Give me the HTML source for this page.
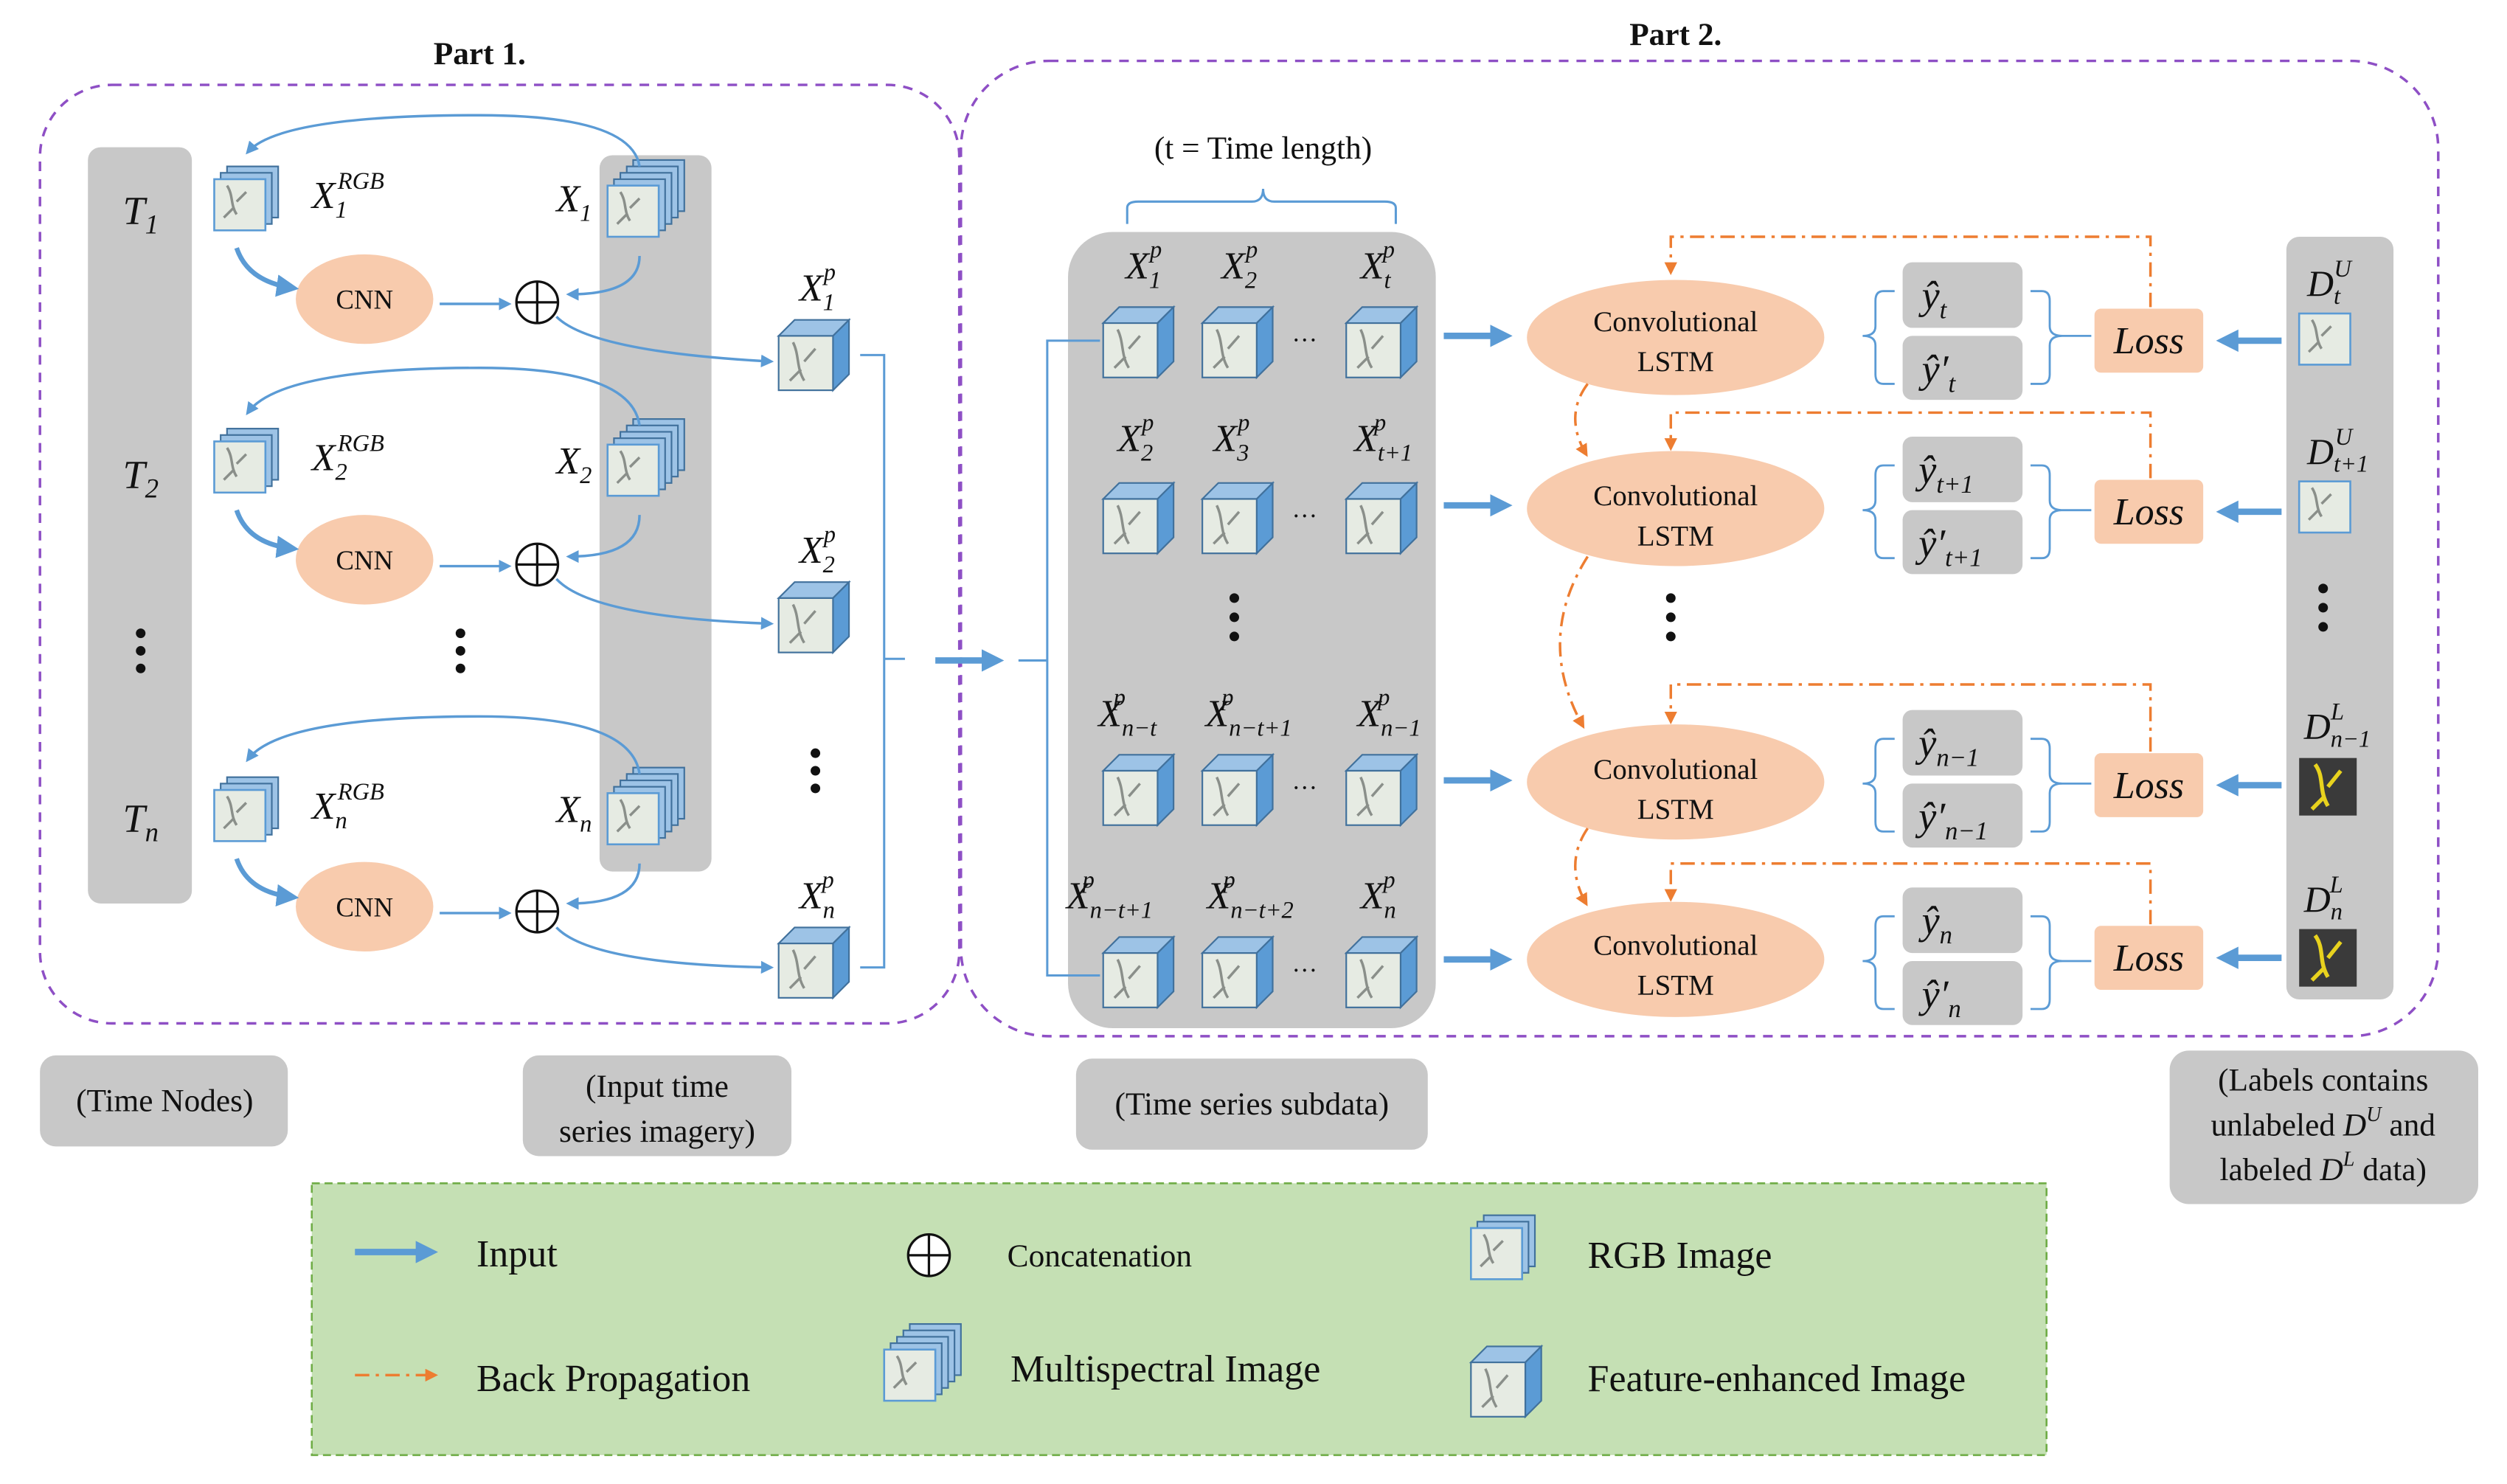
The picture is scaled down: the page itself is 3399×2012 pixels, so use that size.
<!DOCTYPE html>
<html><head><meta charset="utf-8"><style>
html,body{margin:0;padding:0;background:#fff}
svg{display:block}
text{font-family:"Liberation Serif",serif;fill:#111}
.it{font-style:italic}
</style></head><body>
<svg width="3399" height="2012" viewBox="0 0 1568 928" xmlns="http://www.w3.org/2000/svg">
<defs>
<marker id="ab" markerWidth="8" markerHeight="8" refX="6" refY="4" orient="auto" markerUnits="userSpaceOnUse"><path d="M0,0 L8,4 L0,8 z" fill="#5b9bd5"/></marker>
<marker id="abl" markerWidth="14" markerHeight="14" refX="10" refY="7" orient="auto" markerUnits="userSpaceOnUse"><path d="M0,0 L14,7 L0,14 z" fill="#5b9bd5"/></marker>
<marker id="ao" markerWidth="8" markerHeight="8" refX="6" refY="4" orient="auto" markerUnits="userSpaceOnUse"><path d="M0,0 L8,4 L0,8 z" fill="#ed7d31"/></marker>
<g id="map"><rect x="0" y="0" width="32" height="32" fill="#e6ebe3" stroke="#5b9bd5" stroke-width="1.2"/><path d="M8,4 C12,10 10,16 14,22 M14,14 L20,8 M12,18 L6,24" stroke="#8a8f8a" stroke-width="1.6" fill="none"/></g>
<g id="rgb"><rect x="8" y="0" width="32" height="32" fill="#9dc3e6" stroke="#41719c"/><rect x="4" y="4" width="32" height="32" fill="#9dc3e6" stroke="#41719c"/><use href="#map" x="0" y="8"/></g>
<g id="ms"><rect x="16" y="0" width="32" height="32" fill="#9dc3e6" stroke="#41719c"/><rect x="12" y="4" width="32" height="32" fill="#9dc3e6" stroke="#41719c"/><rect x="8" y="8" width="32" height="32" fill="#9dc3e6" stroke="#41719c"/><rect x="4" y="12" width="32" height="32" fill="#9dc3e6" stroke="#41719c"/><use href="#map" x="0" y="16"/></g>
<g id="cube"><path d="M0,10 L10,0 L44,0 L34,10 z" fill="#9dc3e6" stroke="#41719c"/><path d="M34,10 L44,0 L44,34 L34,44 z" fill="#5b9bd5" stroke="#41719c"/><rect x="0" y="10" width="34" height="34" fill="#e6ebe3" stroke="#41719c"/><path d="M9,14 C13,22 11,30 16,38 M16,26 L23,18 M14,31 L7,38" stroke="#8a8f8a" stroke-width="1.6" fill="none"/></g>
<g id="dark"><rect x="0" y="0" width="36" height="36" fill="#3a3a3a"/><path d="M10,4 C16,12 12,20 18,30 M18,18 L26,8 M16,24 L8,32" stroke="#e8d21e" stroke-width="2.5" fill="none"/></g>
<g id="op"><circle r="13" fill="#fff" stroke="#111" stroke-width="1.5"/><path d="M-13,0 H13 M0,-13 V13" stroke="#111" stroke-width="1.5"/></g>
</defs>

<text x="300" y="40" font-size="20" font-weight="bold" text-anchor="middle">Part 1.</text>
<text x="1048" y="28" font-size="20" font-weight="bold" text-anchor="middle">Part 2.</text>
<rect x="25" y="53" width="575" height="587" rx="45" fill="none" stroke="#8e4fc5" stroke-width="1.6" stroke-dasharray="6,5"/>
<rect x="601" y="38" width="924" height="610" rx="55" fill="none" stroke="#8e4fc5" stroke-width="1.6" stroke-dasharray="6,5"/>

<rect x="55" y="92" width="65" height="473" rx="8" fill="#c8c8c8"/>
<rect x="375" y="97" width="70" height="448" rx="8" fill="#c8c8c8"/>
<rect x="668" y="145" width="230" height="498" rx="28" fill="#c8c8c8"/>
<rect x="1430" y="148" width="67" height="477" rx="8" fill="#c8c8c8"/>

<text x="88" y="140" font-size="25" class="it" text-anchor="middle">T<tspan font-size="17" dy="6">1</tspan></text>
<text x="88" y="305" font-size="25" class="it" text-anchor="middle">T<tspan font-size="17" dy="6">2</tspan></text>
<text x="88" y="520" font-size="25" class="it" text-anchor="middle">T<tspan font-size="17" dy="6">n</tspan></text>
<g fill="#111"><circle cx="88" cy="396" r="3"/><circle cx="88" cy="407" r="3"/><circle cx="88" cy="418" r="3"/>
<circle cx="288" cy="396" r="3"/><circle cx="288" cy="407" r="3"/><circle cx="288" cy="418" r="3"/>
<circle cx="510" cy="471" r="3"/><circle cx="510" cy="482" r="3"/><circle cx="510" cy="493" r="3"/>
<circle cx="772" cy="374" r="3"/><circle cx="772" cy="386" r="3"/><circle cx="772" cy="398" r="3"/>
<circle cx="1045" cy="374" r="3"/><circle cx="1045" cy="386" r="3"/><circle cx="1045" cy="398" r="3"/>
<circle cx="1453" cy="368" r="3"/><circle cx="1453" cy="380" r="3"/><circle cx="1453" cy="392" r="3"/></g>

<g>
<use href="#rgb" x="134" y="104"/>
<text x="195" y="130" font-size="24" class="it">X<tspan font-size="15" dy="6">1</tspan><tspan font-size="15" dx="-6" dy="-18">RGB</tspan></text>
<use href="#ms" x="380" y="100"/>
<text x="348" y="132" font-size="24" class="it">X<tspan font-size="15" dy="6">1</tspan></text>
<ellipse cx="228" cy="187" rx="43" ry="28" fill="#f8cbad"/>
<text x="228" y="193" font-size="17" text-anchor="middle">CNN</text>
<use href="#op" x="336" y="189"/>
<path d="M148,155 Q155,176 183,180" stroke="#5b9bd5" stroke-width="3" fill="none" marker-end="url(#abl)"/>
<path d="M275,190 H318" stroke="#5b9bd5" stroke-width="1.6" fill="none" marker-end="url(#ab)"/>
<path d="M400,160 Q400,184 356,184" stroke="#5b9bd5" stroke-width="1.6" fill="none" marker-end="url(#ab)"/>
<path d="M400,104 Q395,72 300,72 Q175,72 155,95" stroke="#5b9bd5" stroke-width="1.6" fill="none" marker-end="url(#ab)"/>
<path d="M348,198 Q370,220 482,226" stroke="#5b9bd5" stroke-width="1.6" fill="none" marker-end="url(#ab)"/>
<use href="#cube" x="487" y="200"/>
<text x="500" y="188" font-size="24" class="it">X<tspan font-size="15" dy="6">1</tspan><tspan font-size="15" dx="-7" dy="-19">p</tspan></text>
</g>
<g>
<use href="#rgb" x="134" y="268"/>
<text x="195" y="294" font-size="24" class="it">X<tspan font-size="15" dy="6">2</tspan><tspan font-size="15" dx="-6" dy="-18">RGB</tspan></text>
<use href="#ms" x="380" y="262"/>
<text x="348" y="296" font-size="24" class="it">X<tspan font-size="15" dy="6">2</tspan></text>
<ellipse cx="228" cy="350" rx="43" ry="28" fill="#f8cbad"/>
<text x="228" y="356" font-size="17" text-anchor="middle">CNN</text>
<use href="#op" x="336" y="353"/>
<path d="M148,319 Q155,340 183,343" stroke="#5b9bd5" stroke-width="3" fill="none" marker-end="url(#abl)"/>
<path d="M275,354 H318" stroke="#5b9bd5" stroke-width="1.6" fill="none" marker-end="url(#ab)"/>
<path d="M400,322 Q400,348 356,348" stroke="#5b9bd5" stroke-width="1.6" fill="none" marker-end="url(#ab)"/>
<path d="M400,266 Q395,230 300,230 Q175,230 155,258" stroke="#5b9bd5" stroke-width="1.6" fill="none" marker-end="url(#ab)"/>
<path d="M348,362 Q370,386 482,390" stroke="#5b9bd5" stroke-width="1.6" fill="none" marker-end="url(#ab)"/>
<use href="#cube" x="487" y="364"/>
<text x="500" y="352" font-size="24" class="it">X<tspan font-size="15" dy="6">2</tspan><tspan font-size="15" dx="-7" dy="-19">p</tspan></text>
</g>
<g>
<use href="#rgb" x="134" y="486"/>
<text x="195" y="512" font-size="24" class="it">X<tspan font-size="15" dy="6">n</tspan><tspan font-size="15" dx="-6" dy="-18">RGB</tspan></text>
<use href="#ms" x="380" y="480"/>
<text x="348" y="514" font-size="24" class="it">X<tspan font-size="15" dy="6">n</tspan></text>
<ellipse cx="228" cy="567" rx="43" ry="28" fill="#f8cbad"/>
<text x="228" y="573" font-size="17" text-anchor="middle">CNN</text>
<use href="#op" x="336" y="570"/>
<path d="M148,537 Q155,558 183,561" stroke="#5b9bd5" stroke-width="3" fill="none" marker-end="url(#abl)"/>
<path d="M275,571 H318" stroke="#5b9bd5" stroke-width="1.6" fill="none" marker-end="url(#ab)"/>
<path d="M400,540 Q400,565 356,565" stroke="#5b9bd5" stroke-width="1.6" fill="none" marker-end="url(#ab)"/>
<path d="M400,484 Q395,448 300,448 Q175,448 155,475" stroke="#5b9bd5" stroke-width="1.6" fill="none" marker-end="url(#ab)"/>
<path d="M348,580 Q370,603 482,605" stroke="#5b9bd5" stroke-width="1.6" fill="none" marker-end="url(#ab)"/>
<use href="#cube" x="487" y="580"/>
<text x="500" y="568" font-size="24" class="it">X<tspan font-size="15" dy="6">n</tspan><tspan font-size="15" dx="-8" dy="-19">p</tspan></text>
</g>

<path d="M538,222 H553 V605 H538 M553,412 H566" stroke="#5b9bd5" stroke-width="1.4" fill="none"/>
<path d="M585,413 H624" stroke="#5b9bd5" stroke-width="4" fill="none" marker-end="url(#abl)"/>
<path d="M637,413 H655 M688,213 H655 V610 H688" stroke="#5b9bd5" stroke-width="1.4" fill="none"/>

<text x="790" y="99" font-size="20" text-anchor="middle">(t = Time length)</text>
<path d="M705,140 V130 Q705,126 712,126 H783 Q790,126 790,118 Q790,126 797,126 H866 Q873,126 873,130 V140" stroke="#5b9bd5" stroke-width="1.4" fill="none"/>

<g font-size="24" class="it">
<use href="#cube" x="690" y="192"/><use href="#cube" x="752" y="192"/><use href="#cube" x="842" y="192"/>
<text x="704" y="174">X<tspan font-size="15" dy="6">1</tspan><tspan font-size="15" dx="-7" dy="-19">p</tspan></text>
<text x="764" y="174">X<tspan font-size="15" dy="6">2</tspan><tspan font-size="15" dx="-7" dy="-19">p</tspan></text>
<text x="851" y="174">X<tspan font-size="15" dy="6">t</tspan><tspan font-size="15" dx="-5" dy="-19">p</tspan></text>
<use href="#cube" x="690" y="302"/><use href="#cube" x="752" y="302"/><use href="#cube" x="842" y="302"/>
<text x="699" y="282">X<tspan font-size="15" dy="6">2</tspan><tspan font-size="15" dx="-7" dy="-19">p</tspan></text>
<text x="759" y="282">X<tspan font-size="15" dy="6">3</tspan><tspan font-size="15" dx="-7" dy="-19">p</tspan></text>
<text x="847" y="282">X<tspan font-size="15" dy="6">t+1</tspan><tspan font-size="15" dx="-24" dy="-19">p</tspan></text>
<use href="#cube" x="690" y="472"/><use href="#cube" x="752" y="472"/><use href="#cube" x="842" y="472"/>
<text x="687" y="454">X<tspan font-size="15" dy="6">n−t</tspan><tspan font-size="15" dx="-27" dy="-19">p</tspan></text>
<text x="754" y="454">X<tspan font-size="15" dy="6">n−t+1</tspan><tspan font-size="15" dx="-44" dy="-19">p</tspan></text>
<text x="849" y="454">X<tspan font-size="15" dy="6">n−1</tspan><tspan font-size="15" dx="-27" dy="-19">p</tspan></text>
<use href="#cube" x="690" y="586"/><use href="#cube" x="752" y="586"/><use href="#cube" x="842" y="586"/>
<text x="667" y="568">X<tspan font-size="15" dy="6">n−t+1</tspan><tspan font-size="15" dx="-44" dy="-19">p</tspan></text>
<text x="755" y="568">X<tspan font-size="15" dy="6">n−t+2</tspan><tspan font-size="15" dx="-44" dy="-19">p</tspan></text>
<text x="851" y="568">X<tspan font-size="15" dy="6">n</tspan><tspan font-size="15" dx="-8" dy="-19">p</tspan></text>
</g>
<g font-size="16"><text x="808" y="218">···</text><text x="808" y="328">···</text><text x="808" y="498">···</text><text x="808" y="612">···</text></g>

<g>
<path d="M903,210 H942" stroke="#5b9bd5" stroke-width="4" fill="none" marker-end="url(#abl)"/>
<path d="M903,316 H942" stroke="#5b9bd5" stroke-width="4" fill="none" marker-end="url(#abl)"/>
<path d="M903,488 H942" stroke="#5b9bd5" stroke-width="4" fill="none" marker-end="url(#abl)"/>
<path d="M903,600 H942" stroke="#5b9bd5" stroke-width="4" fill="none" marker-end="url(#abl)"/>
</g>
<g font-size="18" text-anchor="middle">
<ellipse cx="1048" cy="211" rx="93" ry="36" fill="#f8cbad"/><text x="1048" y="207">Convolutional</text><text x="1048" y="232">LSTM</text>
<ellipse cx="1048" cy="318" rx="93" ry="36" fill="#f8cbad"/><text x="1048" y="316">Convolutional</text><text x="1048" y="341">LSTM</text>
<ellipse cx="1048" cy="489" rx="93" ry="36" fill="#f8cbad"/><text x="1048" y="487">Convolutional</text><text x="1048" y="512">LSTM</text>
<ellipse cx="1048" cy="600" rx="93" ry="36" fill="#f8cbad"/><text x="1048" y="597">Convolutional</text><text x="1048" y="622">LSTM</text>
</g>

<g fill="#c8c8c8">
<rect x="1190" y="164" width="75" height="41" rx="6"/><rect x="1190" y="210" width="75" height="40" rx="6"/>
<rect x="1190" y="273" width="75" height="41" rx="6"/><rect x="1190" y="319" width="75" height="40" rx="6"/>
<rect x="1190" y="444" width="75" height="41" rx="6"/><rect x="1190" y="490" width="75" height="40" rx="6"/>
<rect x="1190" y="555" width="75" height="41" rx="6"/><rect x="1190" y="601" width="75" height="40" rx="6"/>
</g>
<g font-size="25" class="it">
<text x="1202" y="193">ŷ<tspan font-size="16" dy="6">t</tspan></text><text x="1202" y="239">ŷ′<tspan font-size="16" dy="6">t</tspan></text>
<text x="1200" y="302">ŷ<tspan font-size="16" dy="6">t+1</tspan></text><text x="1200" y="348">ŷ′<tspan font-size="16" dy="6">t+1</tspan></text>
<text x="1200" y="473">ŷ<tspan font-size="16" dy="6">n−1</tspan></text><text x="1200" y="519">ŷ′<tspan font-size="16" dy="6">n−1</tspan></text>
<text x="1202" y="584">ŷ<tspan font-size="16" dy="6">n</tspan></text><text x="1202" y="630">ŷ′<tspan font-size="16" dy="6">n</tspan></text>
</g>
<g stroke="#5b9bd5" stroke-width="1.3" fill="none">
<path d="M1185,182 H1178 Q1173,182 1173,188 V204 Q1173,210 1165,210 Q1173,210 1173,216 V234 Q1173,240 1178,240 H1185"/>
<path d="M1270,182 H1277 Q1282,182 1282,188 V204 Q1282,210 1290,210 Q1282,210 1282,216 V234 Q1282,240 1277,240 H1270 M1290,210 H1308"/>
<path d="M1185,291 H1178 Q1173,291 1173,297 V313 Q1173,319 1165,319 Q1173,319 1173,325 V343 Q1173,349 1178,349 H1185"/>
<path d="M1270,291 H1277 Q1282,291 1282,297 V313 Q1282,319 1290,319 Q1282,319 1282,325 V343 Q1282,349 1277,349 H1270 M1290,319 H1308"/>
<path d="M1185,462 H1178 Q1173,462 1173,468 V484 Q1173,490 1165,490 Q1173,490 1173,496 V514 Q1173,520 1178,520 H1185"/>
<path d="M1270,462 H1277 Q1282,462 1282,468 V484 Q1282,490 1290,490 Q1282,490 1282,496 V514 Q1282,520 1277,520 H1270 M1290,490 H1308"/>
<path d="M1185,573 H1178 Q1173,573 1173,579 V595 Q1173,601 1165,601 Q1173,601 1173,607 V625 Q1173,631 1178,631 H1185"/>
<path d="M1270,573 H1277 Q1282,573 1282,579 V595 Q1282,601 1290,601 Q1282,601 1282,607 V625 Q1282,631 1277,631 H1270 M1290,601 H1308"/>
</g>
<g fill="#f8cbad"><rect x="1310" y="193" width="68" height="40" rx="4"/><rect x="1310" y="300" width="68" height="40" rx="4"/><rect x="1310" y="471" width="68" height="40" rx="4"/><rect x="1310" y="579" width="68" height="40" rx="4"/></g>
<g font-size="24" class="it" text-anchor="middle"><text x="1344" y="221">Loss</text><text x="1344" y="328">Loss</text><text x="1344" y="499">Loss</text><text x="1344" y="607">Loss</text></g>
<g stroke="#5b9bd5" stroke-width="4" fill="none">
<path d="M1427,213 H1390" marker-end="url(#abl)"/><path d="M1427,320 H1390" marker-end="url(#abl)"/><path d="M1427,491 H1390" marker-end="url(#abl)"/><path d="M1427,599 H1390" marker-end="url(#abl)"/>
</g>
<g stroke="#ed7d31" stroke-width="1.6" fill="none" stroke-dasharray="9,4,2,4">
<path d="M1345,192 V148 H1045 V170" marker-end="url(#ao)"/>
<path d="M1345,299 V258 H1045 V280" marker-end="url(#ao)"/>
<path d="M1345,470 V428 H1045 V451" marker-end="url(#ao)"/>
<path d="M1345,578 V540 H1045 V562" marker-end="url(#ao)"/>
<path d="M993,240 Q978,260 992,284" marker-end="url(#ao)"/>
<path d="M993,348 Q960,400 990,454" marker-end="url(#ao)"/>
<path d="M993,518 Q978,540 992,565" marker-end="url(#ao)"/>
</g>
<g font-size="23" class="it">
<text x="1443" y="185">D<tspan font-size="15" dy="5">t</tspan><tspan font-size="15" dx="-4" dy="-17">U</tspan></text>
<text x="1443" y="290">D<tspan font-size="15" dy="5">t+1</tspan><tspan font-size="15" dx="-21" dy="-17">U</tspan></text>
<text x="1441" y="462">D<tspan font-size="15" dy="5">n−1</tspan><tspan font-size="15" dx="-25" dy="-17">L</tspan></text>
<text x="1441" y="570">D<tspan font-size="15" dy="5">n</tspan><tspan font-size="15" dx="-8" dy="-17">L</tspan></text>
</g>
<use href="#map" x="1438" y="196"/>
<use href="#map" x="1438" y="301"/>
<use href="#dark" x="1438" y="474"/>
<use href="#dark" x="1438" y="581"/>

<rect x="25" y="660" width="155" height="57" rx="10" fill="#c8c8c8"/>
<text x="103" y="695" font-size="20" text-anchor="middle">(Time Nodes)</text>
<rect x="327" y="660" width="168" height="63" rx="10" fill="#c8c8c8"/>
<text x="411" y="686" font-size="20" text-anchor="middle">(Input time</text>
<text x="411" y="714" font-size="20" text-anchor="middle">series imagery)</text>
<rect x="673" y="662" width="220" height="57" rx="10" fill="#c8c8c8"/>
<text x="783" y="697" font-size="20" text-anchor="middle">(Time series subdata)</text>
<rect x="1357" y="657" width="193" height="96" rx="12" fill="#c8c8c8"/>
<text x="1453" y="682" font-size="20" text-anchor="middle">(Labels contains</text>
<text x="1453" y="710" font-size="20" text-anchor="middle">unlabeled <tspan class="it">D<tspan font-size="13" dy="-9">U</tspan></tspan><tspan dy="9"> and</tspan></text>
<text x="1453" y="738" font-size="20" text-anchor="middle">labeled <tspan class="it">D<tspan font-size="13" dy="-9">L</tspan></tspan><tspan dy="9"> data)</tspan></text>

<rect x="195" y="740" width="1085" height="170" fill="#c5e0b4" stroke="#70ad47" stroke-width="1.2" stroke-dasharray="5,3"/>
<path d="M222,783 H270" stroke="#5b9bd5" stroke-width="4" fill="none" marker-end="url(#abl)"/>
<text x="298" y="792" font-size="24">Input</text>
<path d="M222,860 H272" stroke="#ed7d31" stroke-width="1.6" fill="none" stroke-dasharray="9,4,2,4" marker-end="url(#ao)"/>
<text x="298" y="870" font-size="24">Back Propagation</text>
<use href="#op" x="581" y="785"/>
<text x="630" y="792" font-size="20">Concatenation</text>
<use href="#ms" x="553" y="828"/>
<text x="632" y="864" font-size="24">Multispectral Image</text>
<use href="#rgb" x="920" y="760"/>
<text x="993" y="793" font-size="24">RGB Image</text>
<use href="#cube" x="920" y="842"/>
<text x="993" y="870" font-size="24">Feature-enhanced Image</text>
</svg>
</body></html>
